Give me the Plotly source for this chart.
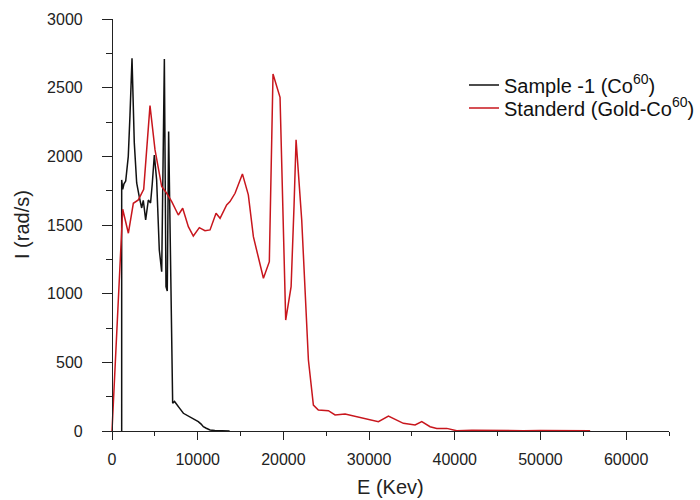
import plotly.graph_objects as go

# Sample -1 (Co60)
sample_E = [1130, 1130, 1250, 1400, 1600, 1900, 2100, 2335, 2600, 2880, 3200, 3465, 3650, 3930, 4240, 4500,
            4700, 4940, 5210, 5520, 5800, 5950, 6110, 6300, 6450, 6610, 6850, 7080, 7300, 7550, 7900, 8330,
            8600, 8920, 9200, 9490, 9800, 10070, 10400, 10660, 11000, 11440, 12000, 12800, 13730]
sample_I = [0, 1828, 1760, 1800, 1820, 2000, 2300, 2714, 2100, 1806, 1700, 1624, 1680, 1537, 1682, 1660,
            1800, 2010, 1828, 1318, 1160, 1900, 2708, 1051, 1020, 2180, 954, 202, 215, 190, 165, 129,
            120, 110, 100, 92, 80, 68, 50, 31, 20, 7, 3, 1, 0]

# Standerd (Gold-Co60)
std_E = [0, 1250, 1910, 2490, 3070, 3700, 4435, 5020, 5800, 6380, 6970, 7740, 8250, 8910, 9490, 10190,
         10850, 11440, 12140, 12610, 13380, 13770, 14360, 15220, 15910, 16500, 17670, 18360, 18790, 19610,
         20270, 20900, 21240, 21480, 22140, 22920, 23500, 24080, 25250, 26030, 27200, 28560, 29730, 31090,
         32260, 34000, 35370, 36150, 37120, 37900, 39070, 40230, 42000, 44000, 46000, 48000, 50000, 52000,
         54000, 55800]
std_I = [0, 1615, 1440, 1658, 1683, 1760, 2369, 2047, 1780, 1731, 1670, 1573, 1622, 1488, 1420, 1481,
         1458, 1464, 1585, 1549, 1646, 1670, 1731, 1872, 1719, 1415, 1112, 1233, 2600, 2430,
         808, 1051, 1634, 2120, 1537, 517, 189, 153, 148, 117, 124, 104, 92, 68,
         109, 56, 44, 68, 31, 19, 19, 2, 5, 3, 6, 2, 4, 3, 5, 2]

y_tickvals = list(range(0, 3001, 500))
y_minor = list(range(250, 3000, 500))
x_tickvals = list(range(0, 60001, 10000))
x_ticktext = [str(v) for v in x_tickvals]
x_minor = list(range(5000, 65001, 10000))

fig = go.Figure()
fig.add_trace(go.Scatter(x=sample_E, y=sample_I, mode="lines", name="Sample -1 (Co<sup>60</sup>)",
                         line=dict(color="#111111", width=1.5), legend="legend"))
fig.add_trace(go.Scatter(x=std_E, y=std_I, mode="lines", name="Standerd (Gold-Co<sup>60</sup>)",
                         line=dict(color="#c8161d", width=1.5), legend="legend2"))

L, R, T, B = 103, 31, 19, 69
plot_w = 700 - L - R
plot_h = 500 - T - B
axis_col = "#222222"


def leg(ypx):
    return dict(x=(464 - L) / plot_w, y=(431 - ypx) / plot_h, xanchor="left", yanchor="middle",
                bgcolor="rgba(0,0,0,0)", font=dict(size=20, color="#111111"))


fig.update_layout(
    width=700, height=500,
    margin=dict(l=L, r=R, t=T, b=B, autoexpand=False),
    paper_bgcolor="white", plot_bgcolor="white",
    font=dict(family="Liberation Sans, Arial, sans-serif", color=axis_col),
    showlegend=True,
    legend=leg(85),
    legend2=leg(108),
    xaxis=dict(range=[-1050, 65000], showgrid=False, zeroline=False, showline=True, automargin=False,
               linecolor=axis_col, linewidth=1.2, ticks="outside", ticklen=8, tickcolor=axis_col,
               tickvals=x_tickvals, ticktext=x_ticktext, tickfont=dict(size=16, color=axis_col),
               ticklabelstandoff=6,
               minor=dict(tickvals=x_minor, ticks="outside", ticklen=4, tickcolor=axis_col)),
    yaxis=dict(range=[0, 3000], showgrid=False, zeroline=False, showline=True, automargin=False,
               linecolor=axis_col, linewidth=1.2, ticks="outside", ticklen=10, tickcolor=axis_col,
               tickvals=y_tickvals, tickfont=dict(size=16, color=axis_col),
               ticklabelstandoff=16,
               minor=dict(tickvals=y_minor, ticks="outside", ticklen=6, tickcolor=axis_col),
               anchor="free", position=(112 - L) / plot_w),
    annotations=[
        dict(text="E (Kev)", xref="paper", yref="paper", x=(390 - L) / plot_w, y=(431 - 487) / plot_h,
             xanchor="center", yanchor="middle", showarrow=False, font=dict(size=20, color=axis_col)),
        dict(text="I (rad/s)", xref="paper", yref="paper", x=(22 - L) / plot_w, y=(431 - 225) / plot_h,
             xanchor="center", yanchor="middle", showarrow=False, textangle=-90,
             font=dict(size=20, color=axis_col)),
    ],
)

fig.write_html("out.html", config={"displayModeBar": False},
               post_script="document.body.style.margin='0';document.body.style.overflow='hidden';")
